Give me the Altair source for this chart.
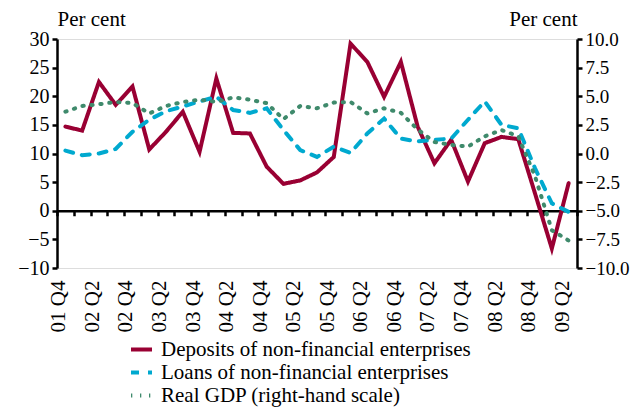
import altair as alt
import pandas as pd

quarters = ["01 Q4",
            "02 Q1", "02 Q2", "02 Q3", "02 Q4",
            "03 Q1", "03 Q2", "03 Q3", "03 Q4",
            "04 Q1", "04 Q2", "04 Q3", "04 Q4",
            "05 Q1", "05 Q2", "05 Q3", "05 Q4",
            "06 Q1", "06 Q2", "06 Q3", "06 Q4",
            "07 Q1", "07 Q2", "07 Q3", "07 Q4",
            "08 Q1", "08 Q2", "08 Q3", "08 Q4",
            "09 Q1", "09 Q2"]
label_quarters = quarters[::2]

deposits = [14.7, 14.0, 22.5, 18.5, 21.7, 10.7, 13.8, 17.3, 10.3, 23.1, 13.6,
            13.5, 7.7, 4.7, 5.3, 6.7, 9.4, 29.2, 26.0, 19.9, 26.0, 14.7,
            8.3, 12.4, 5.1, 11.8, 12.9, 12.5, 3.0, -6.6, 4.8]
loans = [10.5, 9.7, 10.0, 10.8, 13.8, 15.9, 17.4, 18.2, 19.1, 19.9, 17.6,
         17.1, 17.9, 14.1, 10.6, 9.4, 11.2, 10.1, 13.5, 16.1, 12.6, 12.1,
         12.4, 12.6, 15.9, 19.1, 15.0, 14.4, 7.4, 1.3, -0.2]
gdp = [3.65, 4.15, 4.3, 4.5, 4.4, 3.5, 4.15, 4.5, 4.7, 4.5, 4.9,
       4.7, 4.4, 3.0, 4.15, 3.95, 4.45, 4.5, 3.5, 3.95, 3.55, 2.1,
       1.0, 0.75, 0.6, 1.5, 2.05, 1.5, -2.0, -6.7, -7.6]

series_names = ["Deposits of non-financial enterprises",
                "Loans of non-financial enterprises",
                "Real GDP (right-hand scale)"]
colors = ["#990033", "#00a9cf", "#3f8a6c"]
dashes = [[1, 0], [8, 9], [1.3, 7.7]]

left_ticks = [-10, -5, 0, 5, 10, 15, 20, 25, 30]
right_ticks = [-10, -7.5, -5, -2.5, 0, 2.5, 5, 7.5, 10]

FONT = "Liberation Serif"

df = pd.DataFrame({
    "quarter": quarters * 2,
    "value": deposits + loans,
    "series": [series_names[0]] * len(quarters) + [series_names[1]] * len(quarters),
})
gdf = pd.DataFrame({"quarter": quarters, "value": gdp, "series": series_names[2]})

xscale = alt.Scale(type="band", domain=quarters, paddingInner=0, paddingOuter=0)
color_scale = alt.Scale(domain=series_names, range=colors)
dash_scale = alt.Scale(domain=series_names, range=dashes)

legend = alt.Legend(
    title=None, orient="none", legendX=72, legendY=298, direction="vertical",
    symbolType="stroke", symbolSize=441, symbolStrokeWidth=4,
    labelFont=FONT, labelFontSize=21, labelColor="black", rowPadding=0,
    labelOffset=7, labelLimit=500,
)

common_axis = dict(domainColor="black", domainWidth=2.5, tickColor="black",
                   tickWidth=2.5, tickSize=5, labelFont=FONT,
                   labelColor="black", grid=False)

left = alt.Chart(df).mark_line(strokeWidth=4, strokeCap="round").encode(
    x=alt.X("quarter:O", scale=xscale, bandPosition=0.5, title=None,
            axis=alt.Axis(values=label_quarters, ticks=False, domain=False,
                          labelAngle=270, labelAlign="right",
                          labelBaseline="alphabetic",
                          labelPadding=12, labelFont=FONT, labelFontSize=21,
                          labelColor="black", grid=False)),
    y=alt.Y("value:Q", scale=alt.Scale(domain=[-10, 30], nice=False, zero=False),
            axis=alt.Axis(values=left_ticks, title="Per cent", titleAngle=0,
                          titleAlign="left", titleBaseline="bottom", titleX=0,
                          titleY=-10, titleFont=FONT, titleFontSize=21,
                          titleFontWeight="normal", titleColor="black",
                          labelPadding=3, labelFontSize=20, **common_axis)),
    color=alt.Color("series:N", scale=color_scale, legend=legend),
    strokeDash=alt.StrokeDash("series:N", scale=dash_scale, legend=legend),
)

right = alt.Chart(gdf).mark_line(strokeWidth=4, strokeCap="round").encode(
    x=alt.X("quarter:O", scale=xscale, bandPosition=0.5, title=None,
            axis=alt.Axis(orient="bottom", offset=-57.25, labels=False,
                          tickBand="extent", domainColor="black", domainWidth=2.5,
                          tickColor="black", tickWidth=2.5, tickSize=5, grid=False)),
    y=alt.Y("value:Q", scale=alt.Scale(domain=[-10, 10], nice=False, zero=False),
            axis=alt.Axis(orient="right", values=right_ticks, format=".1f",
                          title="Per cent", titleAngle=0, titleAlign="right",
                          titleBaseline="bottom", titleX=0, titleY=-10,
                          titleFont=FONT, titleFontSize=21, titleFontWeight="normal",
                          titleColor="black", labelPadding=3, labelFontSize=19,
                          **common_axis)),
    color=alt.Color("series:N", scale=color_scale, legend=legend),
    strokeDash=alt.StrokeDash("series:N", scale=dash_scale, legend=legend),
)

chart = alt.layer(left, right).resolve_scale(y="independent").resolve_axis(
    x="independent"
).properties(
    width=520, height=229,
    autosize=alt.AutoSizeParams(type="none"),
    padding={"left": 49, "top": 31, "right": 53, "bottom": 143},
).configure_view(stroke=None).configure(font=FONT)

chart.save("out.html", embed_options={"renderer": "svg", "actions": False})
